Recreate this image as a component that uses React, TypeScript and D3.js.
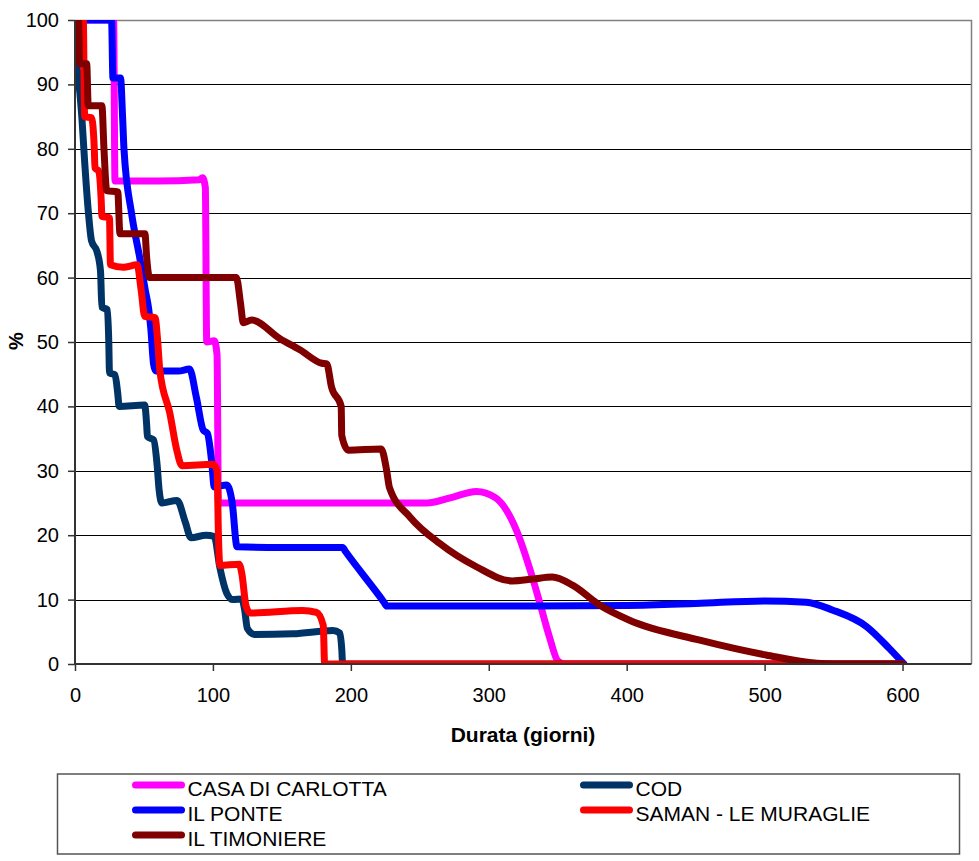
import { useRef, useEffect } from "react";
import * as d3 from "d3";

// giorni, %
const casaDiCarlotta: [number, number][] = [
  [0, 100], [28, 100], [29, 75], [60, 75], [90, 75.2], [92.5, 75.5], [94.5, 74], [95.5, 50],
  [101, 50.2], [103, 48], [104, 25], [150, 25], [255, 25], [272, 25.8], [291, 26.8],
  [305, 25.8], [320, 20.8], [330, 14.6], [337, 9.5], [344, 4.2], [350, 0.5], [355, 0], [600, 0],
];

const cod: [number, number][] = [
  [0, 100], [1.3, 93.6], [3.6, 88.5], [5, 84.8], [7, 78], [9.6, 70.4], [12, 65.7], [16, 64],
  [18.5, 61], [19.5, 55.4], [23.5, 55], [24.5, 50], [25, 45.2], [29, 44.9], [31, 42], [32, 40],
  [50.5, 40.2], [52, 37], [52.5, 35.3], [57, 34.8], [59.5, 31], [61, 27], [63, 25], [74, 25.4],
  [80, 22], [84, 19.6], [95, 20], [101, 19.8], [105, 15], [110, 11], [114.5, 10], [121, 10.1],
  [123, 8.4], [125, 5.5], [130, 4.6], [158, 4.7], [187, 5.2], [192, 4.8], [193.5, 2], [194, 0],
  [600, 0],
];

const ilPonte: [number, number][] = [
  [0, 100], [26.5, 100], [27.5, 91], [33, 91], [34.5, 85], [35.5, 80], [41, 70], [47, 63],
  [51, 58], [53.5, 55], [55, 52], [57, 46.5], [58.5, 45.5], [75, 45.5], [83, 45.8], [88, 41.4],
  [93, 36.3], [96, 35.8], [99, 31.6], [101, 27.5], [110, 27.8], [114, 25], [117.5, 18.2],
  [150, 18.1], [194, 18.1], [196, 17.5], [224, 9.6], [226, 9], [300, 9], [400, 9.1], [450, 9.4],
  [500, 9.8], [530, 9.6], [549, 8.4], [574, 5.8], [590, 2.5], [601, 0],
];

const samanLeMuraglie: [number, number][] = [
  [0, 100], [6, 100], [7, 85], [12, 84.8], [14, 80], [14.5, 77], [17, 76.6], [19, 72],
  [19.5, 69.5], [25, 69.3], [25.7, 62], [35, 61.6], [45, 62], [48, 58], [50.5, 54], [58, 53.8],
  [60, 50], [61.5, 45.6], [68.8, 38.9], [74, 33], [77.5, 30.8], [100, 31], [103, 30], [104, 20],
  [105, 15.3], [119, 15.5], [121, 14], [124, 9], [127, 7.9], [165, 8.3], [175, 8], [180, 6],
  [181, 0], [600, 0],
];

const ilTimoniere: [number, number][] = [
  [0, 100], [2.5, 100], [3.5, 93.2], [8.5, 93.2], [9.6, 86.7], [19.5, 86.7], [21, 80],
  [23, 73.5], [31, 73.3], [32.6, 66.8], [50.7, 66.8], [52, 63], [54, 60], [117, 60], [120, 56],
  [122, 53], [128, 53.4], [148.6, 50.5], [163, 48.8], [179, 46.7], [182.5, 46.6], [186, 43],
  [193, 40], [193.4, 35.5], [198, 33.2], [222, 33.4], [226, 30], [228, 27.4], [243, 22.8],
  [264.5, 18.7], [291, 15.1], [317, 12.9], [332, 13.2], [346, 13.5], [361, 12.2], [380, 9.2],
  [402, 6.8], [453, 3.7], [501, 1.4], [538, 0.1], [550, 0], [600, 0],
];

const seriesNames = ["CASA DI CARLOTTA", "COD", "IL PONTE", "SAMAN - LE MURAGLIE", "IL TIMONIERE"];
const seriesColors = ["#FF00FF", "#003366", "#0000FF", "#FF0000", "#800000"];
const seriesData = [casaDiCarlotta, cod, ilPonte, samanLeMuraglie, ilTimoniere];

const yTicks = d3.range(0, 101, 10);
const xTicks = d3.range(0, 601, 100);

const FONT = "'Liberation Sans', Arial, sans-serif";

const App = () => {
  const svgRef = useRef<SVGSVGElement>(null);

  useEffect(() => {
    const svg = d3.select(svgRef.current);
    svg.selectAll("*").remove();

    const left = 75, right = 971.5, top = 20, bottom = 664;
    const x = d3.scaleLinear().domain([0, 650]).range([left, right]);
    const y = d3.scaleLinear().domain([0, 100]).range([bottom, top]);

    svg.append("rect").attr("width", 979).attr("height", 861).attr("fill", "#fff");

    // griglia
    svg
      .append("g")
      .selectAll("line")
      .data(yTicks.filter((d) => d > 0 && d < 100))
      .join("line")
      .attr("x1", left)
      .attr("x2", right)
      .attr("y1", (d) => Math.round(y(d)) + 0.5)
      .attr("y2", (d) => Math.round(y(d)) + 0.5)
      .attr("stroke", "#000")
      .attr("stroke-width", 1);

    // bordo area grafico (alto e destra)
    svg
      .append("path")
      .attr("d", `M${left},${top + 0.5}H${right}V${bottom}`)
      .attr("fill", "none")
      .attr("stroke", "#808080")
      .attr("stroke-width", 1.5);

    // linee
    svg
      .append("clipPath")
      .attr("id", "plot-clip")
      .append("rect")
      .attr("x", left)
      .attr("y", top)
      .attr("width", right - left)
      .attr("height", bottom - top);

    const line = d3
      .line<[number, number]>()
      .x((d) => x(d[0]))
      .y((d) => y(d[1]))
      .curve(d3.curveMonotoneX);

    svg
      .append("g")
      .attr("clip-path", "url(#plot-clip)")
      .selectAll("path")
      .data(seriesData)
      .join("path")
      .attr("d", (d) => line(d))
      .attr("fill", "none")
      .attr("stroke", (_, i) => seriesColors[i])
      .attr("stroke-width", 7)
      .attr("stroke-linejoin", "round")
      .attr("stroke-linecap", "round");

    // assi
    const yAxis = d3
      .axisLeft(y)
      .tickValues(yTicks)
      .tickSize(7)
      .tickPadding(9)
      .tickFormat(d3.format("d"));
    const gy = svg.append("g").attr("transform", `translate(${left},0)`).call(yAxis);

    const xAxis = d3
      .axisBottom(x)
      .tickValues(xTicks)
      .tickSize(7)
      .tickPadding(17)
      .tickFormat(d3.format("d"));
    const gx = svg.append("g").attr("transform", `translate(0,${bottom})`).call(xAxis);

    [gx, gy].forEach((g) => {
      g.select(".domain").attr("stroke", "#333").attr("stroke-width", 2);
      g.selectAll(".tick line").attr("stroke", "#333").attr("stroke-width", 1.5);
      g.selectAll(".tick text")
        .attr("fill", "#000")
        .style("font-family", FONT)
        .style("font-size", "20px");
    });
    gx.select(".domain").attr("d", `M${left},0H${right}`);
    gy.select(".domain").attr("d", `M0,${top}V${bottom}`);

    // titoli assi
    svg
      .append("text")
      .attr("x", 523)
      .attr("y", 742)
      .attr("text-anchor", "middle")
      .style("font-family", FONT)
      .style("font-size", "21px")
      .style("font-weight", "bold")
      .text("Durata (giorni)");

    svg
      .append("text")
      .attr("transform", "translate(23,341) rotate(-90)")
      .attr("text-anchor", "middle")
      .style("font-family", FONT)
      .style("font-size", "20px")
      .style("font-weight", "bold")
      .text("%");

    // legenda
    const legend = svg.append("g");
    legend
      .append("rect")
      .attr("x", 57.5)
      .attr("y", 774)
      .attr("width", 902)
      .attr("height", 80)
      .attr("fill", "#fff")
      .attr("stroke", "#555")
      .attr("stroke-width", 1.5);

    const colX = [135.5, 583.5];
    const rowY = [785, 810, 835];
    const items = legend
      .selectAll("g.item")
      .data(seriesNames)
      .join("g")
      .attr("class", "item")
      .attr("transform", (_, i) => `translate(${colX[i % 2]},${rowY[Math.floor(i / 2)]})`);

    items
      .append("line")
      .attr("x1", 0)
      .attr("x2", 46)
      .attr("stroke", (_, i) => seriesColors[i])
      .attr("stroke-width", 7)
      .attr("stroke-linecap", "round");

    items
      .append("text")
      .attr("x", 52)
      .attr("y", 11)
      .style("font-family", FONT)
      .style("font-size", "21px")
      .text((d) => d);
  }, []);

  return (
    <svg
      ref={svgRef}
      width={979}
      height={861}
      style={{ position: "absolute", left: 0, top: 0 }}
    />
  );
};

export default App;
